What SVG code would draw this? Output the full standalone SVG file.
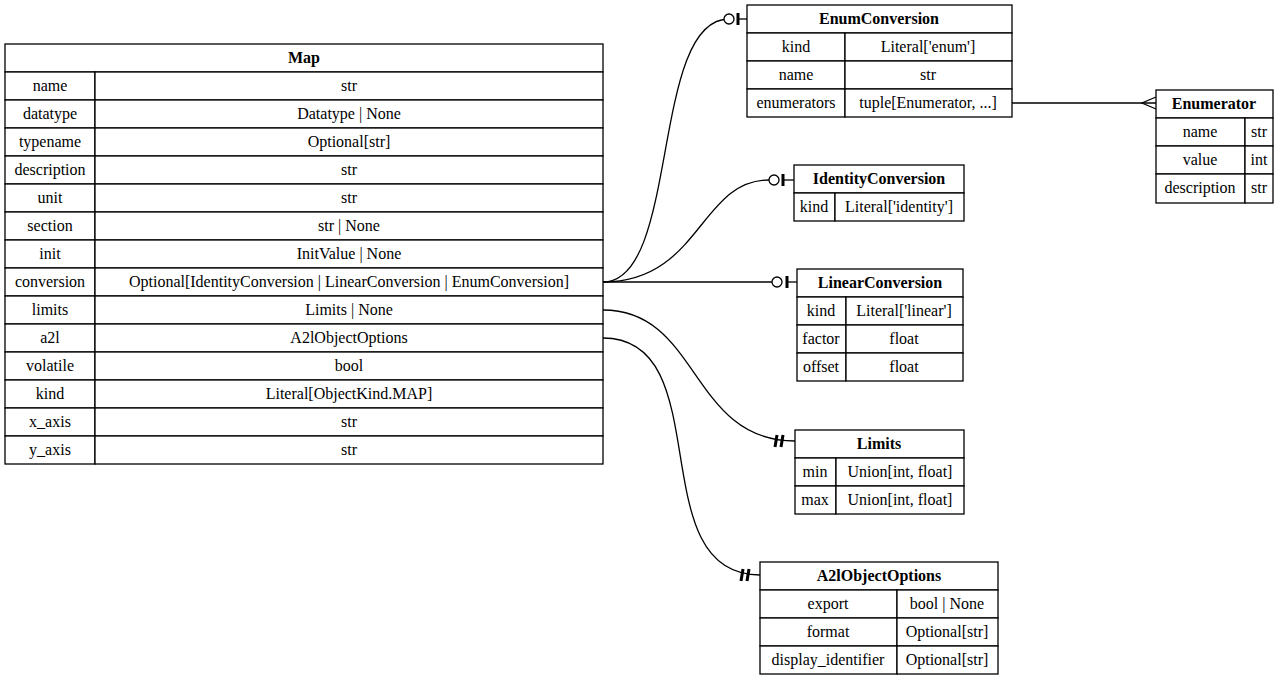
<svg xmlns="http://www.w3.org/2000/svg" width="1279" height="680" viewBox="0 0 1279 680">
<style>
text{font-family:"Liberation Serif",serif;font-size:16px;fill:#000;text-anchor:middle}
.h{font-weight:bold}
rect{fill:#fff;stroke:#000;stroke-width:1.3}
line,path{stroke:#000;stroke-width:1.3;fill:none}
.bar{stroke-width:3}
circle{fill:#fff;stroke:#000;stroke-width:1.3}
</style>
<rect x="0" y="0" width="1279" height="680" style="fill:#fff;stroke:none"/>
<g id="connectors">
<path d="M603,282 C680,282 650,19 729,19"/><circle cx="729" cy="19" r="5"/><line class="bar" x1="738" y1="13" x2="738" y2="25"/><line x1="738" y1="19" x2="747" y2="19"/>
<path d="M603,282 C700,282 700,180 769,180"/><circle cx="774" cy="180" r="5"/><line class="bar" x1="783" y1="174" x2="783" y2="186"/><line x1="783" y1="180" x2="794" y2="180"/>
<line x1="603" y1="282" x2="772" y2="282"/><circle cx="777" cy="282" r="5"/><line class="bar" x1="787" y1="276" x2="787" y2="288"/><line x1="787" y1="282" x2="797" y2="282"/>
<path d="M603,310 C700,310 690,441 795,441"/><line class="bar" x1="777" y1="435" x2="775" y2="447"/><line class="bar" x1="783" y1="435" x2="781" y2="447"/>
<path d="M603,338 C720,338 640,575 760,575"/><line class="bar" x1="743" y1="569" x2="741" y2="581"/><line class="bar" x1="749" y1="569" x2="747" y2="581"/>
<line x1="1012" y1="103" x2="1156" y2="103"/><path d="M1156,97 L1142,103 L1156,109"/>
</g>
<g id="Map">
<rect x="5" y="44" width="598" height="28"/><text class="h" x="304" y="63">Map</text>
<rect x="5" y="72" width="90" height="28"/><rect x="95" y="72" width="508" height="28"/><text x="50" y="91">name</text><text x="349" y="91">str</text>
<rect x="5" y="100" width="90" height="28"/><rect x="95" y="100" width="508" height="28"/><text x="50" y="119">datatype</text><text x="349" y="119">Datatype | None</text>
<rect x="5" y="128" width="90" height="28"/><rect x="95" y="128" width="508" height="28"/><text x="50" y="147">typename</text><text x="349" y="147">Optional[str]</text>
<rect x="5" y="156" width="90" height="28"/><rect x="95" y="156" width="508" height="28"/><text x="50" y="175">description</text><text x="349" y="175">str</text>
<rect x="5" y="184" width="90" height="28"/><rect x="95" y="184" width="508" height="28"/><text x="50" y="203">unit</text><text x="349" y="203">str</text>
<rect x="5" y="212" width="90" height="28"/><rect x="95" y="212" width="508" height="28"/><text x="50" y="231">section</text><text x="349" y="231">str | None</text>
<rect x="5" y="240" width="90" height="28"/><rect x="95" y="240" width="508" height="28"/><text x="50" y="259">init</text><text x="349" y="259">InitValue | None</text>
<rect x="5" y="268" width="90" height="28"/><rect x="95" y="268" width="508" height="28"/><text x="50" y="287">conversion</text><text x="349" y="287">Optional[IdentityConversion | LinearConversion | EnumConversion]</text>
<rect x="5" y="296" width="90" height="28"/><rect x="95" y="296" width="508" height="28"/><text x="50" y="315">limits</text><text x="349" y="315">Limits | None</text>
<rect x="5" y="324" width="90" height="28"/><rect x="95" y="324" width="508" height="28"/><text x="50" y="343">a2l</text><text x="349" y="343">A2lObjectOptions</text>
<rect x="5" y="352" width="90" height="28"/><rect x="95" y="352" width="508" height="28"/><text x="50" y="371">volatile</text><text x="349" y="371">bool</text>
<rect x="5" y="380" width="90" height="28"/><rect x="95" y="380" width="508" height="28"/><text x="50" y="399">kind</text><text x="349" y="399">Literal[ObjectKind.MAP]</text>
<rect x="5" y="408" width="90" height="28"/><rect x="95" y="408" width="508" height="28"/><text x="50" y="427">x_axis</text><text x="349" y="427">str</text>
<rect x="5" y="436" width="90" height="28"/><rect x="95" y="436" width="508" height="28"/><text x="50" y="455">y_axis</text><text x="349" y="455">str</text>
</g>
<g id="EnumConversion">
<rect x="747" y="5" width="265" height="28"/><text class="h" x="879" y="24">EnumConversion</text>
<rect x="747" y="33" width="98" height="28"/><rect x="845" y="33" width="167" height="28"/><text x="796" y="52">kind</text><text x="928" y="52">Literal['enum']</text>
<rect x="747" y="61" width="98" height="28"/><rect x="845" y="61" width="167" height="28"/><text x="796" y="80">name</text><text x="928" y="80">str</text>
<rect x="747" y="89" width="98" height="28"/><rect x="845" y="89" width="167" height="28"/><text x="796" y="108">enumerators</text><text x="928" y="108">tuple[Enumerator, ...]</text>
</g>
<g id="Enumerator">
<rect x="1156" y="90" width="117" height="28"/><text class="h" x="1214" y="109">Enumerator</text>
<rect x="1156" y="118" width="89" height="28"/><rect x="1245" y="118" width="28" height="28"/><text x="1200" y="137">name</text><text x="1259" y="137">str</text>
<rect x="1156" y="146" width="89" height="28"/><rect x="1245" y="146" width="28" height="28"/><text x="1200" y="165">value</text><text x="1259" y="165">int</text>
<rect x="1156" y="174" width="89" height="29"/><rect x="1245" y="174" width="28" height="29"/><text x="1200" y="193">description</text><text x="1259" y="193">str</text>
</g>
<g id="IdentityConversion">
<rect x="794" y="165" width="170" height="28"/><text class="h" x="879" y="184">IdentityConversion</text>
<rect x="794" y="193" width="41" height="28"/><rect x="835" y="193" width="129" height="28"/><text x="814" y="212">kind</text><text x="899" y="212">Literal['identity']</text>
</g>
<g id="LinearConversion">
<rect x="797" y="269" width="166" height="28"/><text class="h" x="880" y="288">LinearConversion</text>
<rect x="797" y="297" width="49" height="28"/><rect x="846" y="297" width="117" height="28"/><text x="821" y="316">kind</text><text x="904" y="316">Literal['linear']</text>
<rect x="797" y="325" width="49" height="28"/><rect x="846" y="325" width="117" height="28"/><text x="821" y="344">factor</text><text x="904" y="344">float</text>
<rect x="797" y="353" width="49" height="28"/><rect x="846" y="353" width="117" height="28"/><text x="821" y="372">offset</text><text x="904" y="372">float</text>
</g>
<g id="Limits">
<rect x="795" y="430" width="169" height="28"/><text class="h" x="879" y="449">Limits</text>
<rect x="795" y="458" width="41" height="28"/><rect x="836" y="458" width="128" height="28"/><text x="815" y="477">min</text><text x="900" y="477">Union[int, float]</text>
<rect x="795" y="486" width="41" height="28"/><rect x="836" y="486" width="128" height="28"/><text x="815" y="505">max</text><text x="900" y="505">Union[int, float]</text>
</g>
<g id="A2lObjectOptions">
<rect x="760" y="562" width="238" height="28"/><text class="h" x="879" y="581">A2lObjectOptions</text>
<rect x="760" y="590" width="137" height="28"/><rect x="897" y="590" width="101" height="28"/><text x="828" y="609">export</text><text x="947" y="609">bool | None</text>
<rect x="760" y="618" width="137" height="28"/><rect x="897" y="618" width="101" height="28"/><text x="828" y="637">format</text><text x="947" y="637">Optional[str]</text>
<rect x="760" y="646" width="137" height="28"/><rect x="897" y="646" width="101" height="28"/><text x="828" y="665">display_identifier</text><text x="947" y="665">Optional[str]</text>
</g>
</svg>
